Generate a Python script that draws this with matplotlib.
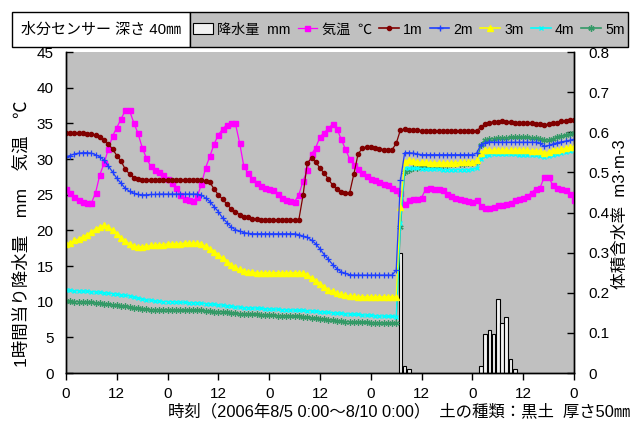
import matplotlib
matplotlib.use("Agg")
import matplotlib.pyplot as plt
from matplotlib.lines import Line2D
from matplotlib.patches import Rectangle, Patch

plt.rcParams['font.family'] = ['Liberation Sans', 'Noto Sans CJK JP']

# ---------------- data (hourly, 2006-08-05 0:00 .. 2006-08-10 0:00) ----------------
hours = list(range(121))
tick_positions = [0, 12, 24, 36, 48, 60, 72, 84, 96, 108, 120]
tick_labels = ["0", "12", "0", "12", "0", "12", "0", "12", "0", "12", "0"]

# air temperature (deg C)
temp = [25.8, 25.2, 24.7, 24.3, 24.0, 23.8, 23.8, 25.3, 27.8, 29.4,
        31.4, 33.2, 34.4, 35.6, 36.8, 36.8, 35.1, 33.6, 31.6, 30.1,
        29.0, 28.5, 28.2, 27.7, 27.2, 26.7, 26.0, 24.9, 24.4, 24.25,
        24.1, 24.7, 26.5, 28.8, 30.4, 32.1, 33.4, 34.2, 34.8, 35.0,
        35.0, 32.3, 29.0, 28.0, 27.2, 26.6, 26.2, 26.0, 25.8, 25.6,
        25.1, 24.6, 24.25, 24.1, 24.0, 25.0, 26.9, 28.5, 30.7, 31.6,
        33.1, 33.7, 34.3, 34.9, 34.2, 32.8, 31.4, 30.0, 29.2, 28.6,
        28.0, 27.6, 27.2, 27.1, 26.8, 26.5, 26.3, 26.0, 25.7, 25.2,
        23.7, 24.2, 24.4, 24.4, 24.6, 25.8, 26.0, 25.85, 25.75, 25.6,
        25.1, 24.8, 24.6, 24.4, 24.25, 24.1, 24.0, 24.2, 23.4, 23.2,
        23.2, 23.3, 23.5, 23.5, 23.7, 23.9, 24.2, 24.35, 24.6, 24.8,
        25.3, 25.85, 26.0, 27.5, 27.5, 26.3, 26.0, 25.8, 25.65, 25.1,
        24.25]

# hourly rainfall (mm)
rain_hours = [79, 80, 81, 98, 99, 100, 101, 102, 103, 104, 105, 106]
rain_mm = [16.8, 1.0, 0.5, 1.0, 5.4, 6.0, 5.4, 10.4, 7.0, 7.9, 2.0, 0.5]

# volumetric water content (m3/m3)
vwc_1m = [0.597, 0.597, 0.597, 0.597, 0.597, 0.596, 0.595, 0.592, 0.587, 0.581,
          0.571, 0.558, 0.542, 0.528, 0.508, 0.496, 0.487, 0.483, 0.481, 0.480,
          0.480, 0.480, 0.481, 0.481, 0.481, 0.481, 0.481, 0.481, 0.481, 0.481,
          0.481, 0.481, 0.480, 0.478, 0.475, 0.458, 0.444, 0.433, 0.421, 0.409,
          0.402, 0.395, 0.389, 0.388, 0.384, 0.383, 0.382, 0.382, 0.382, 0.382,
          0.382, 0.382, 0.382, 0.382, 0.382, 0.382, 0.443, 0.524, 0.535, 0.526,
          0.510, 0.498, 0.483, 0.468, 0.458, 0.452, 0.448, 0.449, 0.496, 0.546,
          0.560, 0.564, 0.562, 0.560, 0.559, 0.557, 0.556, 0.556, 0.572, 0.606,
          0.607, 0.606, 0.605, 0.605, 0.604, 0.603, 0.603, 0.603, 0.603, 0.603,
          0.603, 0.603, 0.603, 0.603, 0.603, 0.603, 0.603, 0.604, 0.612, 0.620,
          0.624, 0.626, 0.626, 0.628, 0.626, 0.626, 0.624, 0.622, 0.622, 0.622,
          0.622, 0.620, 0.620, 0.619, 0.620, 0.622, 0.624, 0.628, 0.629, 0.631,
          0.631]

vwc_2m = [0.539, 0.542, 0.546, 0.548, 0.549, 0.549, 0.548, 0.544, 0.539, 0.530,
          0.516, 0.501, 0.485, 0.473, 0.460, 0.453, 0.448, 0.445, 0.444, 0.444,
          0.445, 0.445, 0.446, 0.446, 0.446, 0.446, 0.446, 0.446, 0.446, 0.446,
          0.446, 0.446, 0.443, 0.436, 0.427, 0.414, 0.402, 0.386, 0.375, 0.364,
          0.357, 0.354, 0.350, 0.348, 0.347, 0.347, 0.347, 0.347, 0.347, 0.347,
          0.347, 0.347, 0.347, 0.347, 0.347, 0.345, 0.341, 0.338, 0.331, 0.322,
          0.309, 0.295, 0.283, 0.270, 0.260, 0.252, 0.248, 0.245, 0.244, 0.244,
          0.244, 0.244, 0.244, 0.244, 0.244, 0.244, 0.244, 0.244, 0.256, 0.480,
          0.549, 0.549, 0.548, 0.546, 0.544, 0.544, 0.544, 0.544, 0.544, 0.544,
          0.544, 0.544, 0.544, 0.544, 0.544, 0.544, 0.544, 0.548, 0.569, 0.574,
          0.576, 0.575, 0.575, 0.575, 0.575, 0.575, 0.575, 0.575, 0.575, 0.575,
          0.575, 0.575, 0.572, 0.565, 0.567, 0.571, 0.574, 0.576, 0.578, 0.580,
          0.582]

vwc_3m = [0.322, 0.325, 0.331, 0.334, 0.340, 0.345, 0.352, 0.359, 0.364, 0.368,
          0.364, 0.356, 0.347, 0.336, 0.329, 0.322, 0.316, 0.315, 0.315, 0.316,
          0.318, 0.318, 0.320, 0.320, 0.322, 0.322, 0.322, 0.322, 0.324, 0.324,
          0.324, 0.324, 0.322, 0.316, 0.309, 0.302, 0.295, 0.286, 0.277, 0.270,
          0.263, 0.258, 0.255, 0.252, 0.252, 0.250, 0.250, 0.250, 0.250, 0.250,
          0.250, 0.250, 0.250, 0.250, 0.250, 0.250, 0.249, 0.245, 0.238, 0.229,
          0.222, 0.215, 0.208, 0.204, 0.199, 0.196, 0.194, 0.192, 0.191, 0.190,
          0.190, 0.190, 0.190, 0.190, 0.190, 0.190, 0.190, 0.190, 0.190, 0.414,
          0.526, 0.530, 0.528, 0.526, 0.525, 0.525, 0.524, 0.524, 0.524, 0.524,
          0.524, 0.524, 0.524, 0.525, 0.525, 0.525, 0.526, 0.530, 0.549, 0.556,
          0.556, 0.555, 0.555, 0.555, 0.555, 0.555, 0.555, 0.555, 0.555, 0.555,
          0.554, 0.554, 0.553, 0.549, 0.551, 0.555, 0.556, 0.558, 0.560, 0.562,
          0.564]

vwc_4m = [0.206, 0.206, 0.205, 0.205, 0.204, 0.204, 0.203, 0.202, 0.201, 0.200,
          0.199, 0.198, 0.197, 0.195, 0.194, 0.192, 0.190, 0.187, 0.185, 0.183,
          0.181, 0.180, 0.179, 0.178, 0.178, 0.178, 0.177, 0.176, 0.176, 0.175,
          0.175, 0.175, 0.174, 0.173, 0.172, 0.171, 0.170, 0.169, 0.168, 0.167,
          0.165, 0.164, 0.163, 0.163, 0.162, 0.162, 0.161, 0.160, 0.160, 0.159,
          0.159, 0.158, 0.158, 0.157, 0.157, 0.156, 0.156, 0.155, 0.155, 0.154,
          0.153, 0.152, 0.151, 0.150, 0.149, 0.149, 0.148, 0.147, 0.146, 0.146,
          0.145, 0.144, 0.144, 0.143, 0.142, 0.142, 0.141, 0.141, 0.140, 0.375,
          0.512, 0.511, 0.510, 0.510, 0.509, 0.509, 0.508, 0.508, 0.508, 0.507,
          0.507, 0.507, 0.507, 0.507, 0.507, 0.507, 0.508, 0.510, 0.533, 0.542,
          0.544, 0.545, 0.545, 0.545, 0.545, 0.545, 0.545, 0.544, 0.544, 0.544,
          0.544, 0.543, 0.542, 0.539, 0.540, 0.543, 0.546, 0.548, 0.551, 0.553,
          0.555]

vwc_5m = [0.179, 0.179, 0.178, 0.178, 0.178, 0.177, 0.176, 0.175, 0.174, 0.173,
          0.172, 0.170, 0.169, 0.167, 0.166, 0.164, 0.162, 0.161, 0.160, 0.159,
          0.158, 0.158, 0.158, 0.157, 0.157, 0.157, 0.157, 0.156, 0.156, 0.156,
          0.156, 0.156, 0.156, 0.155, 0.154, 0.153, 0.153, 0.152, 0.151, 0.150,
          0.149, 0.148, 0.147, 0.147, 0.146, 0.146, 0.145, 0.145, 0.144, 0.144,
          0.143, 0.143, 0.142, 0.142, 0.141, 0.141, 0.140, 0.139, 0.138, 0.136,
          0.135, 0.134, 0.133, 0.131, 0.130, 0.129, 0.128, 0.128, 0.127, 0.127,
          0.126, 0.126, 0.125, 0.125, 0.125, 0.124, 0.124, 0.124, 0.124, 0.363,
          0.501, 0.507, 0.510, 0.512, 0.514, 0.515, 0.516, 0.517, 0.517, 0.518,
          0.519, 0.520, 0.521, 0.521, 0.522, 0.523, 0.523, 0.526, 0.569, 0.581,
          0.583, 0.584, 0.585, 0.586, 0.586, 0.587, 0.587, 0.587, 0.587, 0.587,
          0.586, 0.585, 0.583, 0.580, 0.581, 0.584, 0.587, 0.590, 0.592, 0.595,
          0.597]

left_ticks = [0, 5, 10, 15, 20, 25, 30, 35, 40, 45]
right_ticks = [0, 0.1, 0.2, 0.3, 0.4, 0.5, 0.6, 0.7, 0.8]
right_tick_labels = ["0", "0.1", "0.2", "0.3", "0.4", "0.5", "0.6", "0.7", "0.8"]

# ---------------- figure ----------------
W, H = 638, 423
fig = plt.figure(figsize=(W / 100, H / 100), dpi=100)
fig.patch.set_facecolor('white')

L, R, T, B = 66, 574, 52, 373
ax = fig.add_axes([L / W, 1 - B / H, (R - L) / W, (B - T) / H])
ax.set_facecolor('#c0c0c0')
ax2 = ax.twinx()

GRAY = '#c0c0c0'
C_T = '#ff00ff'
C1 = '#800000'
C2 = '#1f3fff'
C3 = '#ffff00'
C4 = '#00ffff'
C5 = '#339966'

ax.bar(rain_hours, rain_mm, width=0.85, color='#f2f2f2', edgecolor='black',
       linewidth=0.8, zorder=2)
ax.plot(hours, temp, color=C_T, lw=0.9, marker='s', ms=3.6, mec=C_T, mfc=C_T, zorder=3)

ax2.plot(hours, vwc_5m, color=C5, lw=0.9, marker=(6, 2, 0), ms=4.5, mec=C5, mew=0.9)
ax2.plot(hours, vwc_4m, color=C4, lw=0.9, marker='x', ms=3.5, mec=C4, mew=1.0)
ax2.plot(hours, vwc_3m, color=C3, lw=0.9, marker='^', ms=3.8, mec=C3, mfc=C3)
ax2.plot(hours, vwc_2m, color=C2, lw=0.9, marker='+', ms=4.5, mec=C2, mew=0.9)
ax2.plot(hours, vwc_1m, color=C1, lw=0.9, marker='o', ms=3.0, mec=C1, mfc=C1)

ax.set_xlim(0, 120)
ax.set_ylim(0, 45)
ax2.set_ylim(0, 0.8)
ax.set_xticks(tick_positions)
ax.set_xticklabels(tick_labels)
ax.set_yticks(left_ticks)
ax.set_yticklabels([str(v) for v in left_ticks])
ax2.set_yticks(right_ticks)
ax2.set_yticklabels(right_tick_labels)

ax.tick_params(axis='x', direction='out', length=5, width=1, pad=5, labelsize=11)
ax.tick_params(axis='y', direction='in', length=5, width=1, pad=9, labelsize=11)
ax2.tick_params(axis='y', direction='in', length=5, width=1, pad=10, labelsize=11)

for a in (ax, ax2):
    a.spines['top'].set_visible(False)
    for s in ('left', 'right', 'bottom'):
        a.spines[s].set_linewidth(1.0)
        a.spines[s].set_color('black')

# axis titles
fig.text(22 / W, 1 - 234 / H, "1時間当り降水量　mm　気温　℃", rotation=90,
         ha='center', va='center', fontsize=12.6)
fig.text(620 / W, 1 - 214 / H, "体積含水率  m3·m-3", rotation=90,
         ha='center', va='center', fontsize=12)
fig.text(630 / W, 1 - 411 / H,
         "時刻（2006年8/5 0:00～8/10 0:00）  土の種類：黒土  厚さ50㎜",
         ha='right', va='center', fontsize=11.8)

# title box and legend box
fig.add_artist(Rectangle((12 / W, 1 - 47 / H), 178 / W, 35 / H, transform=fig.transFigure,
                         facecolor='white', edgecolor='black', linewidth=1.0))
fig.text(101 / W, 1 - 29.5 / H, "水分センサー 深さ 40㎜", ha='center', va='center', fontsize=10.8)
fig.add_artist(Rectangle((190 / W, 1 - 47 / H), 438 / W, 35 / H, transform=fig.transFigure,
                         facecolor=GRAY, edgecolor='black', linewidth=1.0))

handles = [
    Patch(facecolor='#f2f2f2', edgecolor='black', linewidth=0.8),
    Line2D([], [], color=C_T, lw=0.9, marker='s', ms=3.6),
    Line2D([], [], color=C1, lw=1.2, marker='o', ms=3.0),
    Line2D([], [], color=C2, lw=1.2, marker='+', ms=4.5),
    Line2D([], [], color=C3, lw=1.2, marker='^', ms=3.8),
    Line2D([], [], color=C4, lw=1.2, marker='x', ms=3.5),
    Line2D([], [], color=C5, lw=1.2, marker=(6, 2, 0), ms=4.5),
]
labels = ["降水量  mm", "気温  ℃", "1m", "2m", "3m", "4m", "5m"]
fig.legend(handles, labels, loc='center', bbox_to_anchor=(409 / W, 1 - 29.5 / H),
           ncol=7, frameon=False, fontsize=10.2, handlelength=1.4, handletextpad=0.3,
           columnspacing=0.5, handleheight=0.8, borderpad=0.1)

fig.savefig("out.png", dpi=100, facecolor='white')
